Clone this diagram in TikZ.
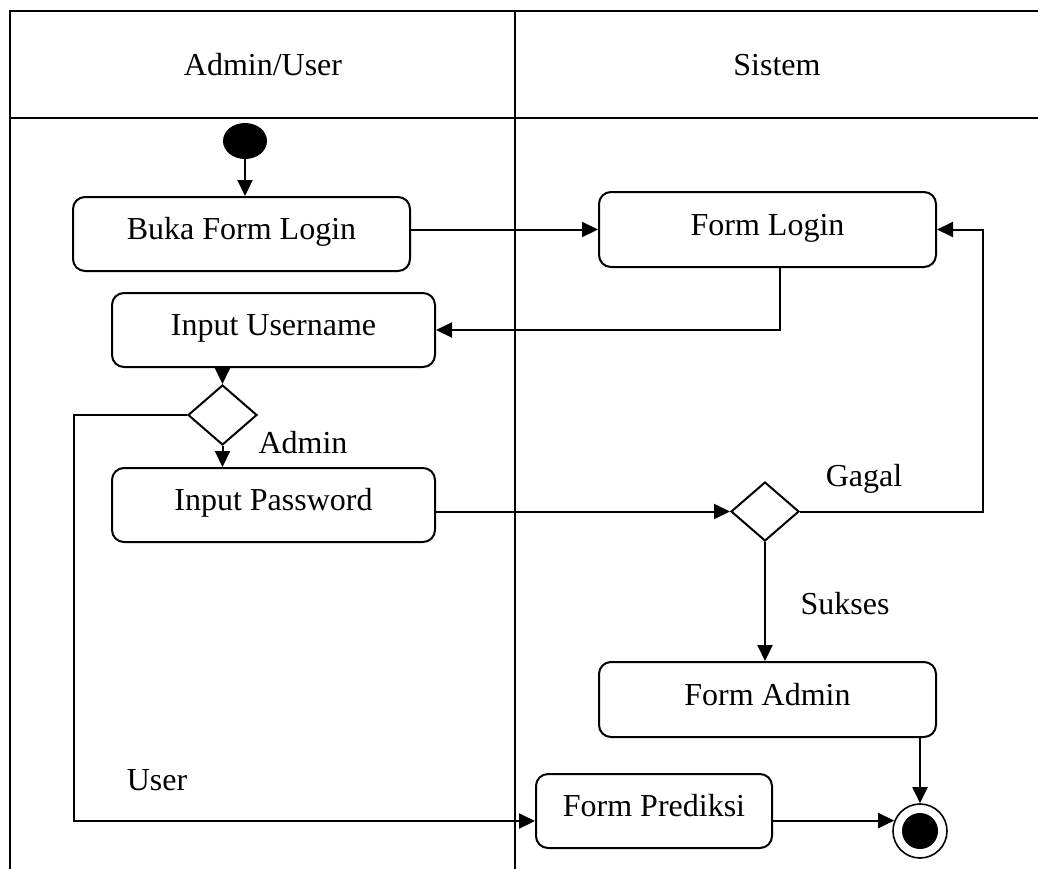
\documentclass[tikz,border=0pt]{standalone}
\usepackage{fontspec}
\setmainfont{Liberation Serif}
\usetikzlibrary{shapes.geometric,arrows.meta}
\begin{document}
\begin{tikzpicture}[x=1pt,y=-1pt,
  lane/.style={line width=2pt},
  act/.style={draw,line width=2pt,rounded corners=12pt,inner sep=0pt,text height=16pt,text depth=5pt,font=\fontsize{32}{38}\selectfont},
  dec/.style={draw,diamond,line width=2pt,inner sep=0pt},
  lbl/.style={font=\fontsize{32}{38}\selectfont,inner sep=0pt,anchor=base},
  flow/.style={line width=2pt,-{Triangle[length=16pt,width=15pt]}}]
\useasboundingbox (0,0) rectangle (1038,868);
% swimlane frame
\draw[lane] (10,870) -- (10,11) -- (1040,11);
\draw[lane] (10,118) -- (1040,118);
\draw[lane] (515,11) -- (515,870);
\node[lbl] (h1) at (263,75) {Admin/User};
\node[lbl] (h2) at (777,75) {Sistem};
% nodes
\node[ellipse,fill=black,minimum width=44pt,minimum height=36pt,inner sep=0pt] (start) at (245,141) {};
\node[act,minimum width=337pt,minimum height=74pt] (buka) at (241.5,234) {Buka Form Login};
\node[act,minimum width=337pt,minimum height=75pt] (login) at (767.5,229.5) {Form Login};
\node[act,minimum width=323pt,minimum height=74pt] (user) at (273.5,330) {Input Username};
\node[dec,minimum width=69pt,minimum height=60pt] (d1) at (222.5,415) {};
\node[act,minimum width=323pt,minimum height=74pt] (pass) at (273.5,505) {Input Password};
\node[dec,minimum width=68pt,minimum height=59pt] (d2) at (765,511.5) {};
\node[act,minimum width=337pt,minimum height=75pt] (admin) at (767.5,699.5) {Form Admin};
\node[act,minimum width=236pt,minimum height=74pt] (pred) at (654,811) {Form Prediksi};
\node[circle,draw,line width=1.6pt,minimum size=54pt,inner sep=0pt] (end) at (920,831) {};
\node[circle,fill=black,minimum size=36pt,inner sep=0pt] (endin) at (end) {};
% labels
\node[lbl] (la) at (303,453) {Admin};
\node[lbl] (lg) at (864,486) {Gagal};
\node[lbl] (ls) at (845,614) {Sukses};
\node[lbl] (lu) at (157,790) {User};
% connectors
\coordinate (uc) at (74,821);
\coordinate (gc) at (983,229.5);
\draw[flow] (start.south) -- (start.south |- buka.north);
\draw[flow] (buka.east |- login.west) -- (login.west);
\draw[flow] ([xshift=12.5pt]login.south) |- (user.east);
\draw[flow] (user.south -| d1.north) -- (d1.north);
\draw[flow] (d1.south) -- (d1.south |- pass.north);
\draw[flow] (d1.west) -- (d1.west -| uc) -- (uc) -- (uc -| pred.west);
\draw[flow] (pass.east |- d2.west) -- (d2.west);
\draw[flow] (d2.east) -| (gc) -- (login.east);
\draw[flow] (d2.south) -- (d2.south |- admin.north);
\draw[flow] (admin.south -| end.north) -- (end.north);
\draw[flow] (end.158 -| pred.east) -- (end.158);
\end{tikzpicture}
\end{document}
